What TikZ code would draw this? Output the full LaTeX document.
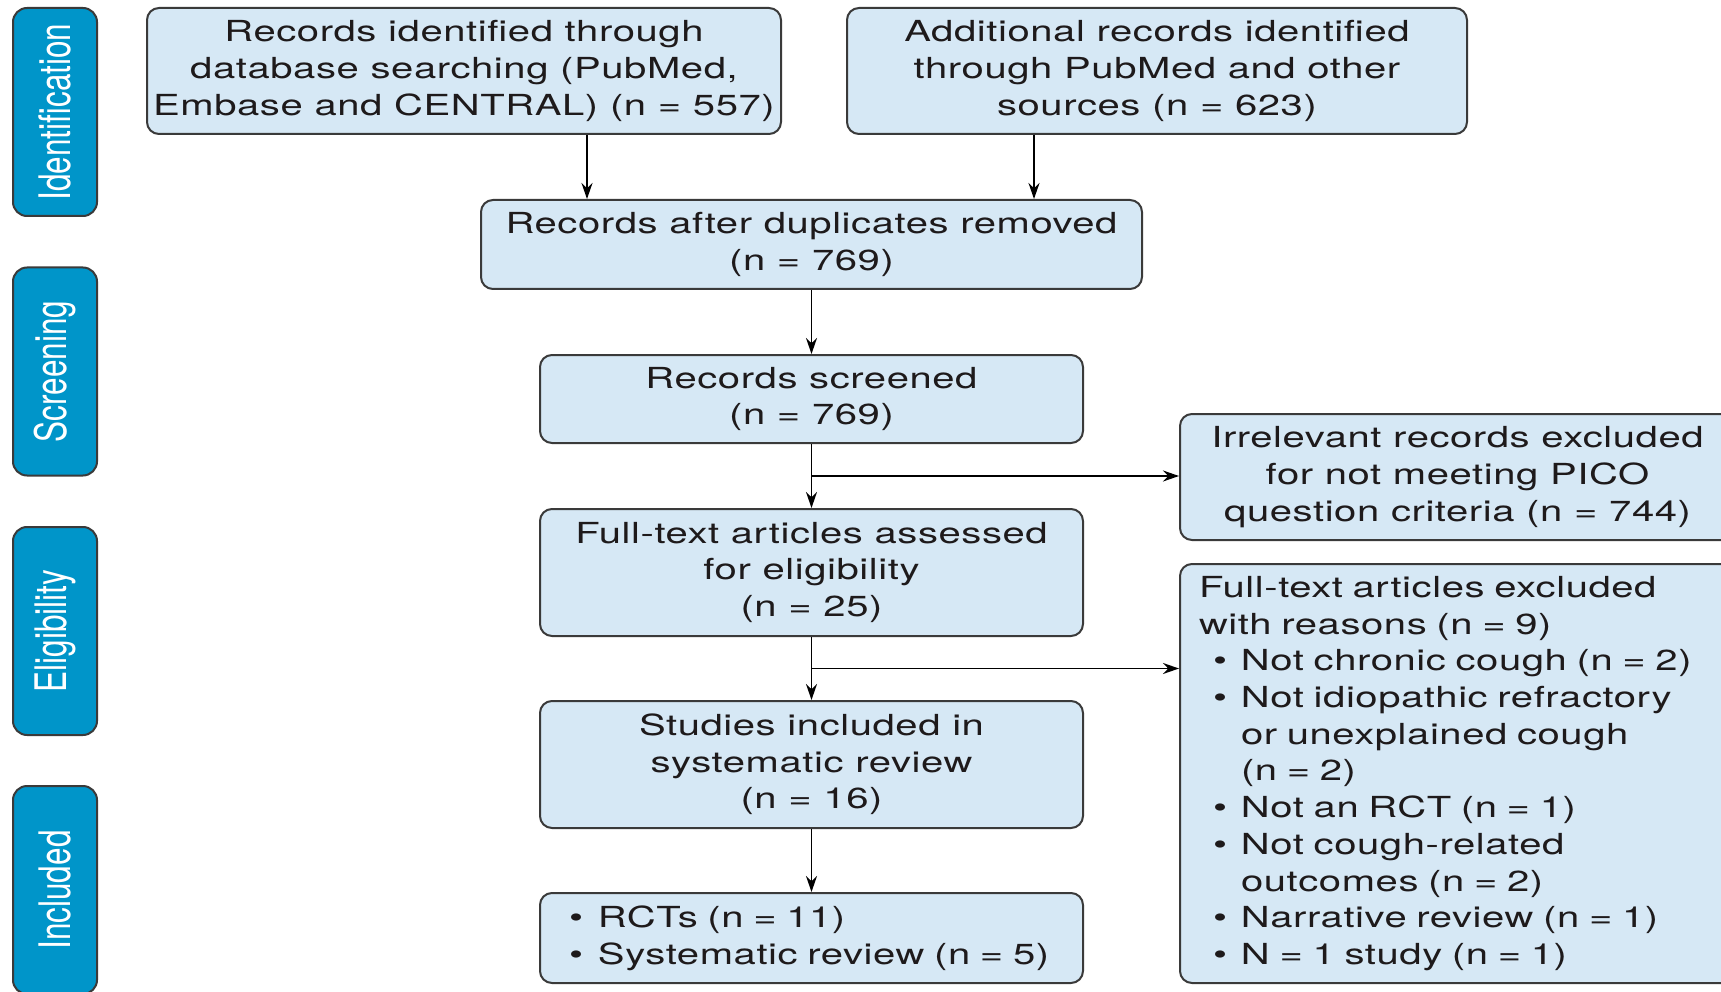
\documentclass[tikz,border=0pt]{standalone}
\usepackage{fontspec}
\setmainfont[FakeStretch=1.38,LetterSpace=2]{TeX Gyre Heros}
\newfontfamily\sidefont{TeX Gyre Heros}
\usepackage{graphicx}
\usetikzlibrary{arrows.meta,calc}
\definecolor{boxfill}{HTML}{D6E8F5}
\definecolor{sidefill}{HTML}{0095C9}
\definecolor{edgegray}{HTML}{3A3A3A}
\definecolor{ink}{HTML}{1E1A1B}
\newcommand{\bitemA}{\hspace*{33pt}\makebox[28pt][l]{\textbullet}}
\newcommand{\bcontA}{\hspace*{61pt}}
\newcommand{\bitemB}{\hspace*{29pt}\makebox[29pt][l]{\textbullet}}
\newcommand{\sidetext}[1]{\rotatebox{90}{\scalebox{1}[1.38]{#1}}}
\begin{document}
\begin{tikzpicture}[x=1pt,y=-1pt,
  every node/.style={font=\fontsize{29}{36.7}\selectfont, text=ink},
  flowbox/.style={draw=edgegray, line width=2pt, fill=boxfill, rounded corners=12pt, inner sep=0pt, align=center},
  sidebox/.style={draw=edgegray, line width=2pt, fill=sidefill, rounded corners=14pt,
    minimum width=84pt, minimum height=208pt, inner sep=0pt, text=white,
    font=\sidefont\fontsize{31.5}{36}\selectfont},
  link/.style={line width=1.8pt, draw=black, -{Stealth[length=16pt,width=11pt]}},
]
\clip (0,0) rectangle (1721,992);
\useasboundingbox (0,0) rectangle (1721,992);

% side labels
\node[sidebox] (sideI) at (55,112) {\sidetext{Identification}};
\node[sidebox] (sideS) at (55,371.5) {\sidetext{Screening}};
\node[sidebox] (sideE) at (55,631) {\sidetext{Eligibility}};
\node[sidebox] (sideN) at (55,890) {\sidetext{Included}};

% flow boxes
\node[flowbox, minimum width=634pt, minimum height=126pt] (ident1) at (464,71)
  {Records identified through\\database searching (PubMed,\\Embase and CENTRAL) (n = 557)};
\node[flowbox, minimum width=620pt, minimum height=126pt] (ident2) at (1157,71)
  {Additional records identified\\through PubMed and other\\sources (n = 623)};
\node[flowbox, minimum width=661pt, minimum height=89pt] (dedup) at (811.5,244.5)
  {Records after duplicates removed\\(n = 769)};
\node[flowbox, minimum width=543pt, minimum height=88pt] (screen) at (811.5,399)
  {Records screened\\(n = 769)};
\node[flowbox, minimum width=555pt, minimum height=126pt] (irrel) at (1457.5,477)
  {Irrelevant records excluded\\for not meeting PICO\\question criteria (n = 744)};
\node[flowbox, minimum width=543pt, minimum height=127pt] (fulltext) at (811.5,572.5)
  {Full-text articles assessed\\for eligibility\\(n = 25)};
\node[flowbox, align=left, text width=555pt, minimum height=419pt] (excl) at (1457.5,773.5)
  {\hspace*{19pt}Full-text articles excluded\\
   \hspace*{19pt}with reasons (n = 9)\\
   \bitemA Not chronic cough (n = 2)\\
   \bitemA Not idiopathic refractory\\
   \bcontA or unexplained cough\\
   \bcontA (n = 2)\\
   \bitemA Not an RCT (n = 1)\\
   \bitemA Not cough-related\\
   \bcontA outcomes (n = 2)\\
   \bitemA Narrative review (n = 1)\\
   \bitemA N = 1 study (n = 1)};
\node[flowbox, minimum width=543pt, minimum height=127pt] (studies) at (811.5,764.5)
  {Studies included in\\systematic review\\(n = 16)};
\node[flowbox, align=left, text width=543pt, minimum height=90pt] (rcts) at (811.5,938)
  {\bitemB RCTs (n = 11)\\
   \bitemB Systematic review (n = 5)};

% connectors
\draw[link] ([xshift=123pt]ident1.south) -- ([xshift=123pt]ident1.south |- dedup.north);
\draw[link] ([xshift=-123pt]ident2.south) -- ([xshift=-123pt]ident2.south |- dedup.north);
\draw[link] (dedup.south) -- (screen.north);
\draw[link] (screen.south) -- (fulltext.north);
\coordinate (br1) at ($(screen.south)!0.5!(fulltext.north)$);
\draw[link] (br1) -- (br1 -| irrel.west);
\draw[link] (fulltext.south) -- (studies.north);
\coordinate (br2) at ($(fulltext.south)!0.5!(studies.north)$);
\draw[link] (br2) -- (br2 -| excl.west);
\draw[link] (studies.south) -- (rcts.north);
\end{tikzpicture}
\end{document}
